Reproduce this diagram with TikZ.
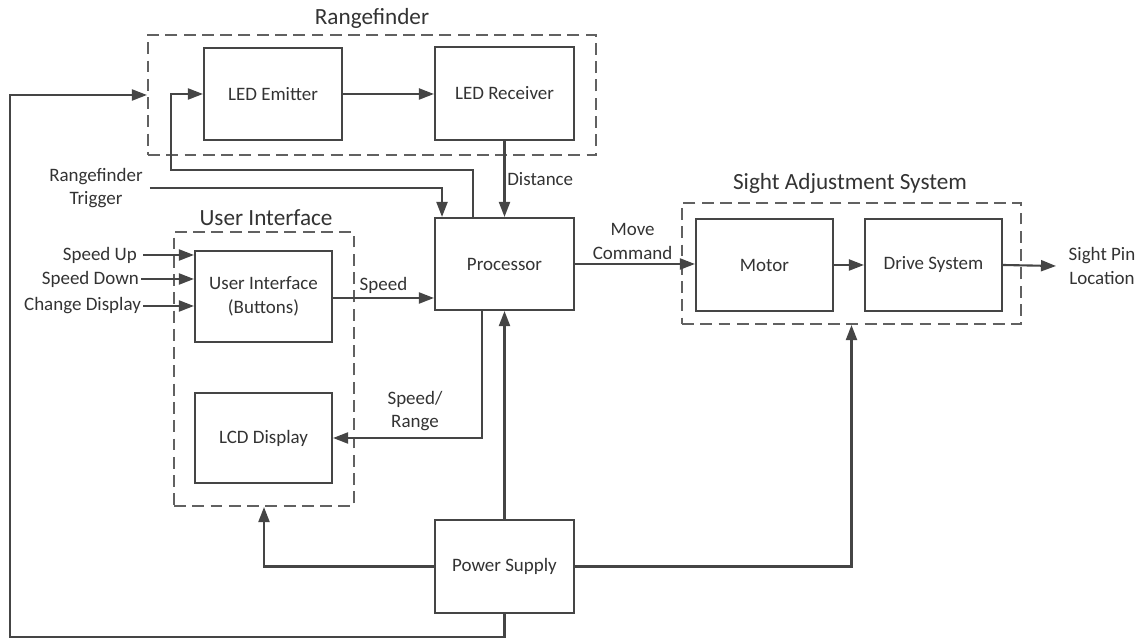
\documentclass[tikz,border=0pt]{standalone}
\usepackage{fontspec}
\setmainfont{Carlito}
\usetikzlibrary{arrows.meta,fit,calc}
\definecolor{ln}{HTML}{454545}
\definecolor{tx}{HTML}{333333}
\begin{document}
\begin{tikzpicture}[x=0.02cm,y=-0.02cm,
  box/.style={draw=ln,line width=1.2pt,inner sep=0pt,text=tx,font=\fontsize{10.8}{13.5}\selectfont,align=center},
  group/.style={draw=ln!85,line width=1.2pt,inner sep=0pt,dash pattern=on 6.8pt off 3.6pt},
  title/.style={text=tx,font=\fontsize{13.2}{15}\selectfont},
  lbl/.style={text=tx,font=\fontsize{10.8}{13.5}\selectfont,align=center,inner sep=1pt},
  arr/.style={draw=ln,line width=1.2pt,-{Triangle[length=0.3cm,width=0.22cm]}},
  wire/.style={draw=ln,line width=1.2pt}]
\useasboundingbox (0,0) rectangle (1143,641);
% groups
\node[group,fit={(148,35)(596,155)}] (rf) {};
\node[group,fit={(174,232)(354,506)}] (ui) {};
\node[group,fit={(682,203)(1021,324)}] (sas) {};
\node[title] (rft) at (372,18) {Rangefinder};
\node[title] (uit) at (266,218) {User Interface};
\node[title] (sast) at (850,183) {Sight Adjustment System};
% boxes
\node[box,fit={(204,48)(342,140)}] (em) {};
\node[lbl] at (em.center) {LED Emitter};
\node[box,fit={(435,47)(574,140)}] (rc) {};
\node[lbl] at (rc.center) {LED Receiver};
\node[box,fit={(435,218)(574,310)}] (proc) {};
\node[lbl] at (proc.center) {Processor};
\node[box,fit={(195,251)(332,342)}] (uib) {};
\node[lbl] at (uib.center) {User Interface\\(Buttons)};
\node[box,fit={(195,393)(332,483)}] (lcd) {};
\node[lbl] at (lcd.center) {LCD Display};
\node[box,fit={(435,520)(574,613)}] (ps) {};
\node[lbl] at (ps.center) {Power Supply};
\node[box,fit={(696,219)(833,311)}] (mot) {};
\node[lbl] at (mot.center) {Motor};
\node[box,fit={(865,219)(1002,311)}] (drv) {};
\node[lbl] at (drv.center) {Drive System};
% text inputs/outputs
\node[lbl] (trig) at (96,188) {Rangefinder\\Trigger};
\node[lbl,anchor=east] (su) at (139,255) {Speed Up};
\node[lbl,anchor=east] (sd) at (141,279) {Speed Down};
\node[lbl,anchor=east] (cd) at (143,306) {Change Display};
\node[lbl] (spl) at (1102,266) {Sight Pin\\Location};
\coordinate (out) at (1056,266);
\coordinate (bl) at (10,637);
\coordinate (fb) at (171,170);
% connectors
\draw[arr] (em.east) -- (rc.west |- em.east);
\draw[arr] (ps.south) |- (bl) |- (rf.west);
\draw[arr] ([xshift=-0.63cm]proc.north) |- (fb) |- (em.west);
\draw[arr] ([xshift=0.1cm]trig.east) -| ([xshift=-1.25cm]proc.north);
\draw[arr] (rc.south) -- node[lbl,right,pos=0.5] {Distance} (proc.north);
\draw[arr] ([xshift=0.08cm]su.east) -- (uib.west |- su.east);
\draw[arr] (sd.east) -- (uib.west |- sd.east);
\draw[arr] (cd.east) -- (uib.west |- cd.east);
\draw[arr] ([yshift=-0.03cm]uib.east) -- node[lbl,above=1pt,pos=0.5] {Speed} ([yshift=-0.03cm]proc.west |- uib.east);
\draw[arr] ([xshift=-0.45cm]proc.south) |- (lcd.east);
\node[lbl] at (415,411) {Speed/\\Range};
\draw[arr] (ps.north) -- (proc.south);
\draw[arr] (ps.west) -| (ui.south);
\draw[arr] (ps.east) -| (sas.south);
\draw[arr] (proc.east) -- node[lbl,above=1pt,pos=0.48] {Move\\Command} (mot.west |- proc.east);
\draw[arr] (mot.east) -- (drv.west);
\draw[arr] (drv.east) -- (out);
\end{tikzpicture}
\end{document}
